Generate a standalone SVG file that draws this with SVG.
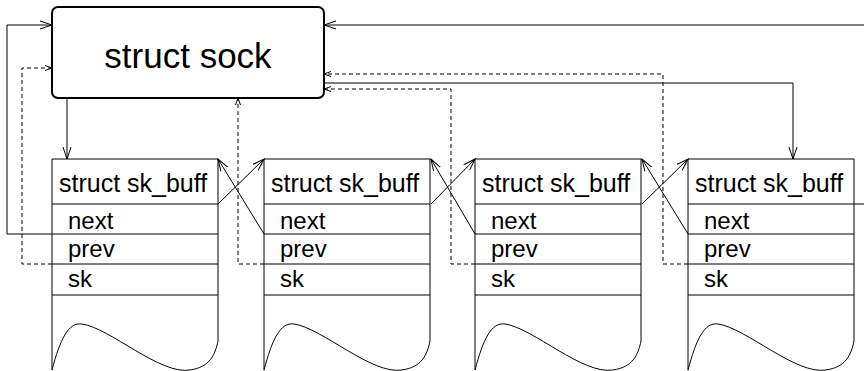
<svg xmlns="http://www.w3.org/2000/svg" width="864" height="371" viewBox="0 0 864 371">
<defs>
<style>
.t{font-family:"Liberation Sans",Arial,sans-serif;fill:#000}
.title{font-size:25px}
.f{font-size:24px}
.row{fill:none;stroke:#000;stroke-width:1}
.c{fill:none;stroke:#000;stroke-width:1}
.d{fill:none;stroke:#000;stroke-width:1;stroke-dasharray:4,3}
</style>
<marker id="a" markerUnits="userSpaceOnUse" markerWidth="14" markerHeight="10" refX="12" refY="5" orient="auto">
<path d="M0,1 L12,5 L0,9" fill="none" stroke="#000" stroke-width="1"/>
</marker>
<marker id="s" markerUnits="userSpaceOnUse" markerWidth="8" markerHeight="8" refX="7" refY="4" orient="auto">
<path d="M0,1.5 L7,4 L0,6.5" fill="none" stroke="#000" stroke-width="1"/>
</marker>
<g id="buffshape">
<path class="row" d="M0,0 H166 M0,0 V211 M166,0 V182 M0,45 H166 M0,75 H166 M0,105 H166 M0,136 H166"/>
<path class="row" d="M0,211 C8,181 16,163 30,165 C58,169 108,216 138,211 C158,208 163,196 166,182"/>
</g>
</defs>
<g id="connectors">
<path class="c" d="M52,234 H7 V25 H52" marker-end="url(#a)"/>
<path class="d" d="M52,264 H22 V68 H52" marker-end="url(#s)"/>
<path class="c" d="M864,25 H324" marker-end="url(#a)"/>
<path class="d" d="M688,264 H663 V74 H324" marker-end="url(#s)"/>
<path class="c" d="M324,83 H793 V159" marker-end="url(#a)"/>
<path class="d" d="M475,264 H451 V89 H324" marker-end="url(#s)"/>
<path class="d" d="M264,264 H238 V98" marker-end="url(#s)"/>
<path class="c" d="M67,98 V159" marker-end="url(#a)"/>
<path class="c" d="M854,204 H864"/>
<path class="c" d="M218,204 L264,159" marker-end="url(#a)"/>
<path class="c" d="M264,234 L218,159" marker-end="url(#a)"/>
<path class="c" d="M431,204 L475,159" marker-end="url(#a)"/>
<path class="c" d="M475,234 L431,159" marker-end="url(#a)"/>
<path class="c" d="M642,204 L688,159" marker-end="url(#a)"/>
<path class="c" d="M688,234 L642,159" marker-end="url(#a)"/>
</g>
<g id="sock">
<rect x="52" y="7" width="272" height="91" rx="6" fill="#fff" stroke="#000" stroke-width="2"/>
<text class="t" x="188" y="68" font-size="35" text-anchor="middle">struct sock</text>
</g>
<g id="buff1" transform="translate(52,159)">
<use href="#buffshape"/>
<text class="t title" x="7" y="33">struct sk_buff</text>
<text class="t f" x="16" y="70">next</text>
<text class="t f" x="16" y="98">prev</text>
<text class="t f" x="16" y="128">sk</text>
</g>
<g id="buff2" transform="translate(264,159)">
<use href="#buffshape"/>
<text class="t title" x="7" y="33">struct sk_buff</text>
<text class="t f" x="16" y="70">next</text>
<text class="t f" x="16" y="98">prev</text>
<text class="t f" x="16" y="128">sk</text>
</g>
<g id="buff3" transform="translate(475,159)">
<use href="#buffshape"/>
<text class="t title" x="7" y="33">struct sk_buff</text>
<text class="t f" x="16" y="70">next</text>
<text class="t f" x="16" y="98">prev</text>
<text class="t f" x="16" y="128">sk</text>
</g>
<g id="buff4" transform="translate(688,159)">
<use href="#buffshape"/>
<text class="t title" x="7" y="33">struct sk_buff</text>
<text class="t f" x="16" y="70">next</text>
<text class="t f" x="16" y="98">prev</text>
<text class="t f" x="16" y="128">sk</text>
</g>
</svg>
